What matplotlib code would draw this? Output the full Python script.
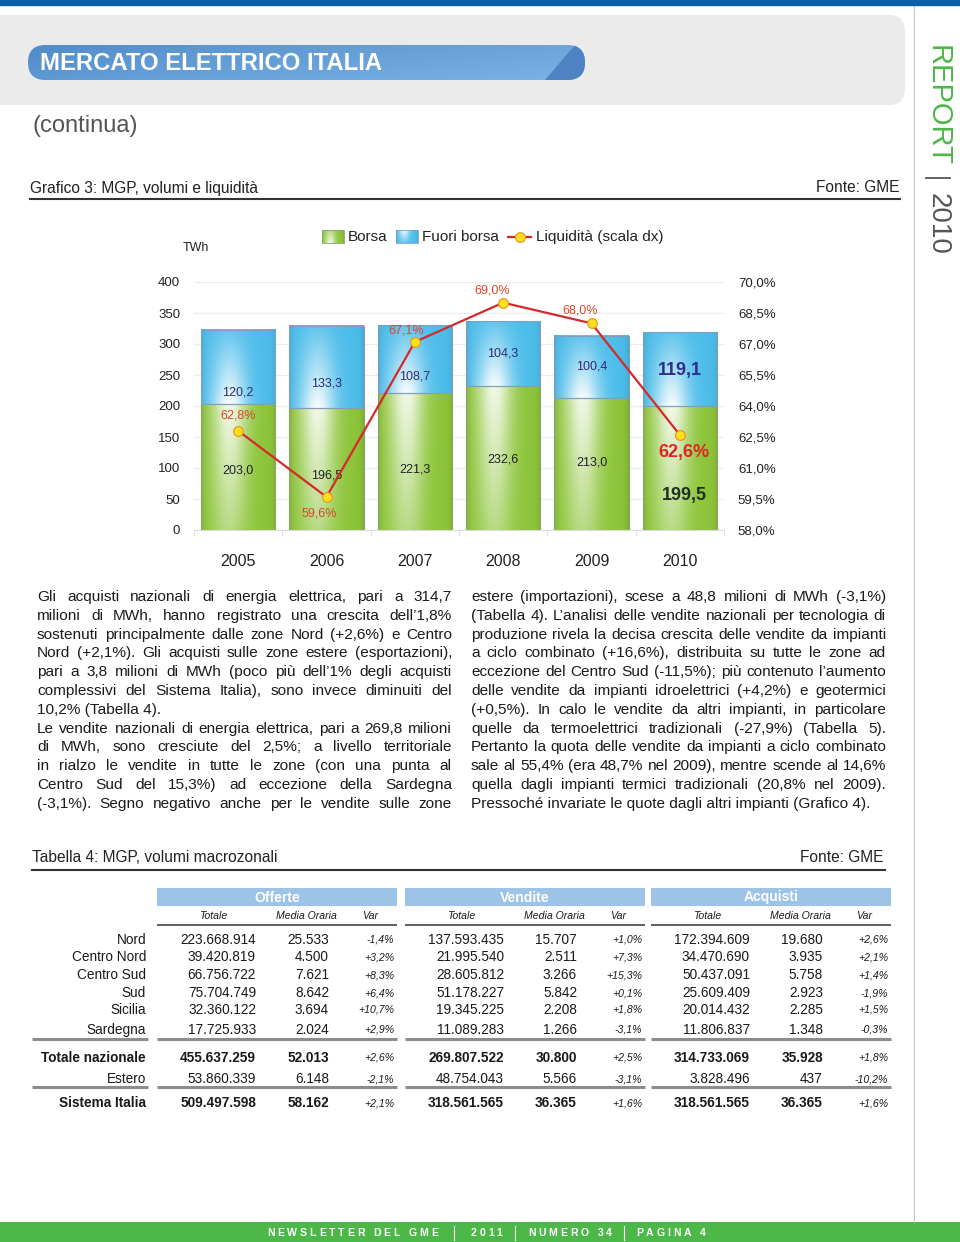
import numpy as np
import matplotlib.pyplot as plt
from matplotlib.patches import FancyBboxPatch, Rectangle, Polygon

plt.rcParams['font.family'] = ['Liberation Sans', 'DejaVu Sans']

# ---- chart data (Grafico 3) ----
years = ["2005", "2006", "2007", "2008", "2009", "2010"]
borsa = [203.0, 196.5, 221.3, 232.6, 213.0, 199.5]
fuori_borsa = [120.2, 133.3, 108.7, 104.3, 100.4, 119.1]
liquidita = [62.8, 59.6, 67.1, 69.0, 68.0, 62.6]

# ---- table data (Tabella 4) ----
row_labels = ["Nord", "Centro Nord", "Centro Sud", "Sud", "Sicilia", "Sardegna",
              "Totale nazionale", "Estero", "Sistema Italia"]
offerte_tot = [223668914, 39420819, 66756722, 75704749, 32360122, 17725933, 455637259, 53860339, 509497598]
offerte_med = [25533, 4500, 7621, 8642, 3694, 2024, 52013, 6148, 58162]
offerte_var = [-1.4, 3.2, 8.3, 6.4, 10.7, 2.9, 2.6, -2.1, 2.1]
vendite_tot = [137593435, 21995540, 28605812, 51178227, 19345225, 11089283, 269807522, 48754043, 318561565]
vendite_med = [15707, 2511, 3266, 5842, 2208, 1266, 30800, 5566, 36365]
vendite_var = [1.0, 7.3, 15.3, 0.1, 1.8, -3.1, 2.5, -3.1, 1.6]
acquisti_tot = [172394609, 34470690, 50437091, 25609409, 20014432, 11806837, 314733069, 3828496, 318561565]
acquisti_med = [19680, 3935, 5758, 2923, 2285, 1348, 35928, 437, 36365]
acquisti_var = [2.6, 2.1, 1.4, -1.9, 1.5, -0.3, 1.8, -10.2, 1.6]

left_lines = [
    "Gli acquisti nazionali di energia elettrica, pari a 314,7",
    "milioni di MWh, hanno registrato una crescita dell\u20191,8%",
    "sostenuti principalmente dalle zone Nord (+2,6%) e Centro",
    "Nord (+2,1%). Gli acquisti sulle zone estere (esportazioni),",
    "pari a 3,8 milioni di MWh (poco più dell\u20191% degli acquisti",
    "complessivi del Sistema Italia), sono invece diminuiti del",
    "10,2% (Tabella 4).",
    "Le vendite nazionali di energia elettrica, pari a 269,8 milioni",
    "di MWh, sono cresciute del 2,5%; a livello territoriale",
    "in rialzo le vendite in tutte le zone (con una punta al",
    "Centro Sud del 15,3%) ad eccezione della Sardegna",
    "(-3,1%). Segno negativo anche per le vendite sulle zone",
]
right_lines = [
    "estere (importazioni), scese a 48,8 milioni di MWh (-3,1%)",
    "(Tabella 4). L\u2019analisi delle vendite nazionali per tecnologia di",
    "produzione rivela la decisa crescita delle vendite da impianti",
    "a ciclo combinato (+16,6%), distribuita su tutte le zone ad",
    "eccezione del Centro Sud (-11,5%); più contenuto l\u2019aumento",
    "delle vendite da impianti idroelettrici (+4,2%) e geotermici",
    "(+0,5%). In calo le vendite da altri impianti, in particolare",
    "quelle da termoelettrici tradizionali (-27,9%) (Tabella 5).",
    "Pertanto la quota delle vendite da impianti a ciclo combinato",
    "sale al 55,4% (era 48,7% nel 2009), mentre scende al 14,6%",
    "quella dagli impianti termici tradizionali (20,8% nel 2009).",
    "Pressoché invariate le quote dagli altri impianti (Grafico 4).",
]


def it_int(v):
    return f"{v:,}".replace(",", ".")


def it_var(v):
    return f"{v:+.1f}%".replace(".", ",")


def bar_gradient(base, top_light, bottom_light, n=80):
    u = np.linspace(0, 1, n)
    v = np.linspace(0, 1, n)
    U, V = np.meshgrid(u, v)
    h = np.exp(-((U - 0.38) / 0.24) ** 2)
    a = np.clip(h * (bottom_light + (top_light - bottom_light) * V), 0, 1)[..., None]
    edge = 0.10 * (np.exp(-U / 0.04) + np.exp(-(1 - U) / 0.04))[..., None]
    col = np.array(base) * (1 - a) + a
    return np.clip(col * (1 - edge), 0, 1)


green_img = bar_gradient((0.55, 0.77, 0.22), 0.88, 0.38)
blue_img = bar_gradient((0.30, 0.74, 0.92), 0.12, 0.95)

fig = plt.figure(figsize=(9.6, 12.42), dpi=100)
page = fig.add_axes([0, 0, 1, 1])
page.set_xlim(0, 960)
page.set_ylim(1242, 0)
page.axis('off')
rend = fig.canvas.get_renderer()

# ---- page header ----
page.add_patch(Rectangle((0, 0), 960, 5, color='#0b5ea8', zorder=3))
page.plot([914, 914], [5, 1222], color='#c8c8c8', lw=0.8)
page.add_patch(FancyBboxPatch((-40, 15), 945, 90, boxstyle="round,pad=0,rounding_size=16",
                              fc='#ebebeb', ec='none'))
pill = FancyBboxPatch((28, 45), 557, 35, boxstyle="round,pad=0,rounding_size=17.5",
                      fc='none', ec='none')
page.add_patch(pill)
gx = np.linspace(0, 1, 200)
gy = np.linspace(0, 1, 40)
GX, GY = np.meshgrid(gx, gy)
c_left = np.array([0.31, 0.54, 0.78])
c_right = np.array([0.43, 0.65, 0.85])
t = (0.5 * GX + 0.5 * np.sqrt(GX))[..., None]
pill_img = c_left * (1 - t) + c_right * t
pill_img = np.clip(pill_img + 0.05 * (1 - GY)[..., None], 0, 1)
im = page.imshow(pill_img, extent=[28, 585, 45, 80], aspect='auto', zorder=2)
im.set_clip_path(pill)
tip = Polygon([(545, 80), (575, 45), (600, 45), (600, 80)], closed=True,
              fc='#4f82c2', ec='none', zorder=2)
page.add_patch(tip)
tip.set_clip_path(pill)
page.text(40, 63, "MERCATO ELETTRICO ITALIA", color='white', fontsize=17.2,
          fontweight='bold', va='center', ha='left', zorder=4)
page.text(32, 126, "(continua)", color='#555555', fontsize=17, va='center')

page.text(938, 45, "REPORT", rotation=270, ha='center', va='top', fontsize=21, color='#4cb848')
page.plot([926, 950], [178, 178], color='#555555', lw=1.3)
page.text(938, 193, "2010", rotation=270, ha='center', va='top', fontsize=20, color='#555555')

page.text(30, 188, "Grafico 3: MGP, volumi e liquidità", fontsize=11.2, color='#222222', va='center')
page.text(899, 188, "Fonte: GME", fontsize=11.2, color='#222222', va='center', ha='right')
page.plot([30, 900], [199, 199], color='#333333', lw=1.5)

# ---- legend ----
page.imshow(green_img, extent=[322, 344, 230, 243], aspect='auto', origin='lower', zorder=2)
page.add_patch(Rectangle((322, 230), 22, 13, fc='none', ec='#8aa36a', lw=0.6, zorder=3))
page.text(348, 237, "Borsa", fontsize=11, va='center', color='#222222')
page.imshow(blue_img, extent=[396, 418, 230, 243], aspect='auto', origin='lower', zorder=2)
page.add_patch(Rectangle((396, 230), 22, 13, fc='none', ec='#7f9fbf', lw=0.6, zorder=3))
page.text(422, 237, "Fuori borsa", fontsize=11, va='center', color='#222222')
page.plot([508, 531], [237, 237], color='#d42a2a', lw=1.6)
page.plot([519.5], [237], marker='o', ms=7, mfc='#ffe01a', mec='#e8901a', mew=0.8)
page.text(536, 237, "Liquidità (scala dx)", fontsize=11, va='center', color='#222222')
page.text(196, 248, "TWh", fontsize=9, ha='center', va='center', color='#222222')

# ---- chart ----
ax = fig.add_axes([194 / 960, 1 - 530 / 1242, 530 / 960, 248 / 1242])
ax.set_facecolor('none')
x = np.arange(len(years))
bw = 0.84
b1 = ax.bar(x, borsa, bw, color='#8cc43a', zorder=2)
b2 = ax.bar(x, fuori_borsa, bw, bottom=borsa, color='#4dbce9', zorder=2)
for bars, img, ec in ((b1, green_img, '#8aa36a'), (b2, blue_img, '#7f9fbf')):
    for p in bars:
        x0, y0, w, h = p.get_x(), p.get_y(), p.get_width(), p.get_height()
        ax.imshow(img, extent=[x0, x0 + w, y0, y0 + h], aspect='auto', origin='lower', zorder=2.5)
        p.set_facecolor('none')
        p.set_edgecolor(ec)
        p.set_linewidth(0.8)
        p.set_zorder(3)
ax.set_xlim(-0.5, 5.5)
ax.set_ylim(0, 400)
ax.set_yticks(np.arange(0, 401, 50))
ax.yaxis.grid(True, color='#ececec', lw=0.9, zorder=0)
ax.set_axisbelow(True)
for s in ax.spines.values():
    s.set_visible(False)
ax.spines['bottom'].set_visible(True)
ax.spines['bottom'].set_color('#dddddd')
ax.set_xticks(x)
ax.set_xticklabels(years, fontsize=11.5, color='#222222')
ax.set_xticks(np.arange(-0.5, 6, 1), minor=True)
ax.tick_params(axis='x', which='major', length=0, pad=17)
ax.tick_params(axis='x', which='minor', length=4, color='#dddddd')
ax.tick_params(axis='y', length=0, pad=10, labelsize=9.5, labelcolor='#222222')

borsa_lab_frac = [0.47, 0.45, 0.44, 0.49, 0.51, 0.28]
fuori_lab_frac = [0.15, 0.30, 0.24, 0.50, 0.51, 0.49]
for i in range(len(years)):
    big = i == len(years) - 1
    ax.text(x[i] + (0.05 if big else 0), borsa[i] * borsa_lab_frac[i], f"{borsa[i]:.1f}".replace(".", ","),
            ha='center', va='center', zorder=5,
            fontsize=13 if big else 9, fontweight='bold' if big else 'normal',
            color='#1e3020' if big else '#222222')
    ax.text(x[i], borsa[i] + fuori_borsa[i] * fuori_lab_frac[i], f"{fuori_borsa[i]:.1f}".replace(".", ","),
            ha='center', va='center', zorder=5,
            fontsize=13 if big else 9, fontweight='bold' if big else 'normal',
            color='#2b2f8a' if big else '#2c2c6e')

ax2 = ax.twinx()
ax2.set_ylim(58, 70)
ax2.set_yticks(np.arange(58, 70.01, 1.5))
ax2.set_yticklabels([f"{v:.1f}%".replace(".", ",") for v in np.arange(58, 70.01, 1.5)])
ax2.tick_params(axis='y', length=0, pad=10, labelsize=9.5, labelcolor='#222222')
for s in ax2.spines.values():
    s.set_visible(False)
ax2.plot(x, liquidita, color='#d42a2a', lw=1.6, marker='o', ms=7,
         mfc='#ffe01a', mec='#e8901a', mew=0.8, zorder=6)
liq_off = [(0, 15), (-7, -17), (-9, 11), (-11, 12), (-11, 13), (4, -18)]
for i, v in enumerate(liquidita):
    big = i == len(years) - 1
    ax2.annotate(f"{v:.1f}%".replace(".", ","), (x[i], v), xytext=liq_off[i],
                 textcoords='offset pixels', ha='center', va='center',
                 fontsize=13 if big else 9, fontweight='bold' if big else 'normal',
                 color='#e02424' if big else '#d9472b', zorder=7)


# ---- justified body text ----
def justified(lines, x0, x1, y0, dy, fs, left_rows):
    for i, line in enumerate(lines):
        y = y0 + i * dy
        if i in left_rows:
            page.text(x0, y, line, fontsize=fs, va='center', color='#1a1a1a')
            continue
        words = line.split(' ')
        texts = [page.text(0, y, w, fontsize=fs, va='center', color='#1a1a1a') for w in words]
        widths = [tt.get_window_extent(rend).width for tt in texts]
        gap = (x1 - x0 - sum(widths)) / (len(words) - 1)
        xx = x0
        for tt, w in zip(texts, widths):
            tt.set_x(xx)
            xx += w + gap


justified(left_lines, 37, 452, 597, 18.8, 11.1, {6})
justified(right_lines, 471, 886, 597, 18.8, 11.1, {11})

# ---- table ----
page.text(32, 857, "Tabella 4: MGP, volumi macrozonali", fontsize=11.2, color='#222222', va='center')
page.text(883, 857, "Fonte: GME", fontsize=11.2, color='#222222', va='center', ha='right')
page.plot([32, 885], [870, 870], color='#333333', lw=1.5)

row_y = [940, 957, 975, 993, 1010, 1030, 1058, 1079, 1103]
bold_rows = {6, 8}
groups = [("Offerte", 157, offerte_tot, offerte_med, offerte_var),
          ("Vendite", 405, vendite_tot, vendite_med, vendite_var),
          ("Acquisti", 651, acquisti_tot, acquisti_med, acquisti_var)]
for i, lab in enumerate(row_labels):
    page.text(146, row_y[i], lab, fontsize=9.8, ha='right', va='center', color='#1a1a1a',
              fontweight='bold' if i in bold_rows else 'normal')
for yline in (1039, 1087):
    page.plot([32, 148], [yline, yline], color='#8c8c8c', lw=2.2, solid_capstyle='butt')
for name, ox, tot, med, var in groups:
    page.add_patch(Rectangle((ox, 888), 240, 18, fc='#9dc3e6', ec='none'))
    page.text(ox + 120, 897.5, name, color='white', fontsize=10, fontweight='bold', ha='center', va='center')
    for lab, cx in (("Totale", 56), ("Media Oraria", 149), ("Var", 213)):
        page.text(ox + cx, 916, lab, fontsize=7.6, style='italic', ha='center', va='center', color='#1a1a1a')
    page.plot([ox, ox + 240], [925, 925], color='#444444', lw=1.2, solid_capstyle='butt')
    for yline in (1039, 1087):
        page.plot([ox, ox + 240], [yline, yline], color='#8c8c8c', lw=2.2, solid_capstyle='butt')
    for i in range(len(row_labels)):
        fw = 'bold' if i in bold_rows else 'normal'
        page.text(ox + 99, row_y[i], it_int(tot[i]), fontsize=9.8, ha='right', va='center',
                  color='#1a1a1a', fontweight=fw)
        page.text(ox + 172, row_y[i], it_int(med[i]), fontsize=9.8, ha='right', va='center',
                  color='#1a1a1a', fontweight=fw)
        page.text(ox + 237, row_y[i], it_var(var[i]), fontsize=7.6, style='italic', ha='right',
                  va='center', color='#1a1a1a')

# ---- footer ----
page.add_patch(Rectangle((0, 1222), 960, 20, fc='#4cb848', ec='none'))


def tracked(x0, y, s, fs, track):
    xx = x0
    for ch in s:
        if ch == ' ':
            xx += fs * 0.28 * 100 / 72 + track
            continue
        tt = page.text(xx, y, ch, fontsize=fs, color='white', fontweight='bold', va='center')
        xx += tt.get_window_extent(rend).width + track


for seg, sx in (("NEWSLETTER DEL GME", 267), ("2011", 471), ("NUMERO 34", 528), ("PAGINA 4", 636)):
    tracked(sx, 1233, seg, 7.6, 2.8)
for bx in (454, 515, 624):
    page.plot([bx, bx], [1226, 1240], color='white', lw=0.8)

fig.savefig("out.png", dpi=100)
